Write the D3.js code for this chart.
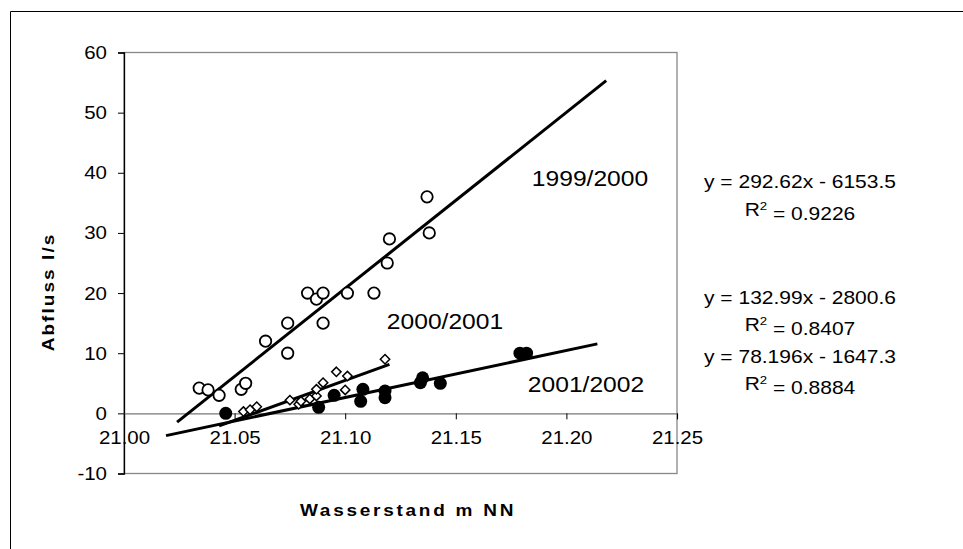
<!DOCTYPE html>
<html><head><meta charset="utf-8">
<script src="https://cdn.jsdelivr.net/npm/d3@7"></script>
<style>
body{margin:0;background:#fff;}
svg{display:block;font-family:"Liberation Sans",Arial,sans-serif;}
</style></head>
<body><svg id="c" width="963" height="549"></svg>
<script>
// ---- data ----
const xTicks = [21.00, 21.05, 21.10, 21.15, 21.20, 21.25];
const yTicks = [-10, 0, 10, 20, 30, 40, 50, 60];

const s1999 = [ // open circles (Wasserstand, Abfluss)
  [21.034,4.2],[21.038,3.9],[21.043,3.0],[21.053,4.0],[21.055,5.0],
  [21.064,12],[21.074,10],[21.074,15],[21.083,20],[21.087,19],
  [21.090,20],[21.090,15],[21.101,20],[21.113,20],[21.119,25],
  [21.120,29],[21.137,36],[21.138,30]
];
const s2000 = [ // open diamonds
  [21.054,0.3],[21.057,0.6],[21.060,1.1],[21.075,2.2],[21.079,1.5],
  [21.080,2.0],[21.084,2.4],[21.087,2.9],[21.087,4.0],[21.090,5.1],
  [21.096,6.9],[21.100,3.9],[21.101,6.2],[21.118,9.0]
];
const s2001 = [ // filled circles
  [21.046,0],[21.088,1],[21.095,3],[21.107,2],[21.108,4],
  [21.118,3.7],[21.118,2.6],[21.134,5.1],[21.135,5.9],[21.143,5.0],
  [21.179,10],[21.182,10]
];
const trendNames = ["1999/2000","2000/2001","2001/2002"];
const trendSlope = [292.62, 132.99, 78.196];
const trendIntercept = [-6153.5, -2800.6, -1647.3];
const trendFrom = [21.024, 21.043, 21.019];
const trendTo = [21.218, 21.120, 21.214];
const eqTexts = ["y = 292.62x - 6153.5","y = 132.99x - 2800.6","y = 78.196x - 1647.3"];
const r2Texts = ["0.9226","0.8407","0.8884"];

// ---- layout ----
const svg = d3.select("#c");
const L=124, R=677, T=52.5, B=473.5;
const S = 1.17; // horizontal text stretch seen in the reference
const x = d3.scaleLinear().domain([21.00,21.25]).range([L,R]);
const y = d3.scaleLinear().domain([-10,60]).range([B,T]);

function stext(px, py, str, size, opts={}){
  const g = svg.append("g").attr("transform",`translate(${px},${py}) ${opts.rot?`rotate(${opts.rot})`:""} scale(${opts.s||S},1)`);
  const t = g.append("text").attr("text-anchor","middle").attr("dy","0.35em")
    .attr("font-size",size).attr("fill","#000");
  if(opts.bold) t.attr("font-weight","bold");
  if(opts.ls) t.attr("letter-spacing",opts.ls);
  if(str!==null) t.text(str);
  return t;
}

// outer frame
svg.append("path").attr("d","M10.5,549 V11.5 H963").attr("fill","none").attr("stroke","#000").attr("stroke-width",1);

// plot border
svg.append("rect").attr("x",L).attr("y",T).attr("width",R-L).attr("height",B-T)
  .attr("fill","none").attr("stroke","#888").attr("stroke-width",1.3);

// y axis
const yAx = svg.append("g").attr("transform",`translate(${L},0)`)
  .call(d3.axisLeft(y).tickValues(yTicks).tickSize(6).tickFormat(d3.format("d")));
yAx.select(".domain").attr("stroke","#000").attr("stroke-width",1.3);
yAx.selectAll(".tick line").attr("stroke","#000");
yAx.selectAll(".tick text").attr("font-size",17.5).attr("fill","#000")
  .attr("font-family","Liberation Sans, Arial, sans-serif")
  .attr("transform",`scale(${S},1)`).attr("x",-17/S).attr("dy","0.34em")
  .text(d=>d<0?"-"+Math.abs(d):d);

// x axis at y=0
const xAx = svg.append("g").attr("transform",`translate(0,${y(0)})`)
  .call(d3.axisBottom(x).tickValues(xTicks).tickSize(6).tickFormat(d3.format(".2f")));
xAx.select(".domain").attr("stroke","#777").attr("stroke-width",1.3);
xAx.selectAll(".tick line").attr("stroke","#000");
xAx.selectAll(".tick text").attr("font-size",17.5).attr("fill","#000")
  .attr("font-family","Liberation Sans, Arial, sans-serif")
  .attr("transform",`scale(${S},1)`).attr("y",18).attr("dy","0.71em");

// trend lines
trendNames.forEach((n,i)=>{
  svg.append("line")
    .attr("x1",x(trendFrom[i])).attr("y1",y(trendSlope[i]*trendFrom[i]+trendIntercept[i]))
    .attr("x2",x(trendTo[i])).attr("y2",y(trendSlope[i]*trendTo[i]+trendIntercept[i]))
    .attr("stroke","#000").attr("stroke-width",3);
});

// markers
svg.append("g").selectAll("path").data(s2000).join("path")
  .attr("d",d3.symbol(d3.symbolDiamond2,56)())
  .attr("transform",d=>`translate(${x(d[0])},${y(d[1])})`)
  .attr("fill","#fff").attr("stroke","#000").attr("stroke-width",1.5);
svg.append("g").selectAll("circle").data(s2001).join("circle")
  .attr("cx",d=>x(d[0])).attr("cy",d=>y(d[1])).attr("r",6.5)
  .attr("fill","#000");
svg.append("g").selectAll("circle").data(s1999).join("circle")
  .attr("cx",d=>x(d[0])).attr("cy",d=>y(d[1])).attr("r",5.7)
  .attr("fill","#fff").attr("stroke","#000").attr("stroke-width",1.8);

// series labels
const labPos = [[590,178],[445,321],[586,384]];
trendNames.forEach((n,i)=>{
  stext(labPos[i][0], labPos[i][1], n, 22, {s:1.12});
});

// equations
const eqY = [[182,210],[298,325],[357,384]];
eqTexts.forEach((t,i)=>{
  stext(800, eqY[i][0], t, 17.5, {s:1.2});
  const r = stext(800, eqY[i][1], null, 17.5, {s:1.2});
  r.append("tspan").text("R");
  r.append("tspan").attr("font-size",11).attr("dy","-0.6em").text("2");
  r.append("tspan").attr("dy","0.6em").text(" = "+r2Texts[i]);
});

// axis titles
stext(408, 510, "Wasserstand m  NN", 16.5, {bold:true, ls:2.4, s:1.15});
stext(48, 292, "Abfluss l/s", 16.5, {bold:true, ls:1.8, s:1.15, rot:-90});
</script></body></html>
